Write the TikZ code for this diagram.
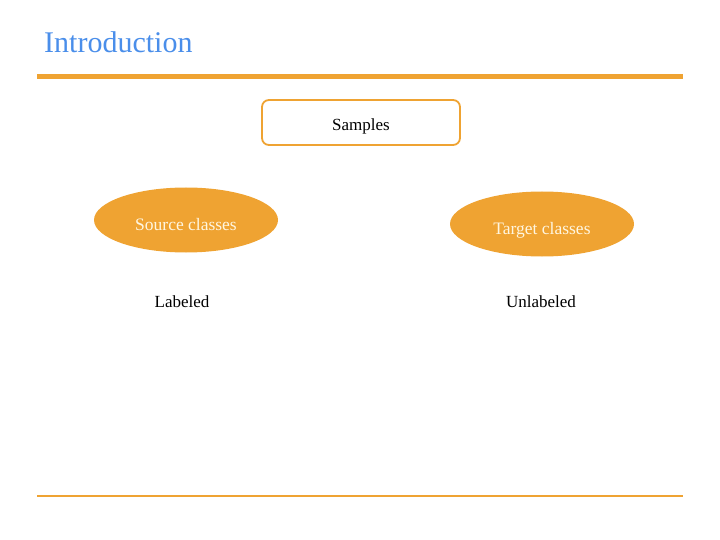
\documentclass[tikz,border=0pt]{standalone}
\usepackage{fontspec}
\setmainfont{Liberation Serif}
\usepackage{xcolor}
\usetikzlibrary{shapes.geometric,positioning}
\definecolor{slideorange}{HTML}{EFA332}
\definecolor{titleblue}{HTML}{4A8EEA}
\definecolor{cream}{HTML}{FFF6E0}

\begin{document}
\begin{tikzpicture}[
  x=1pt, y=-1pt,
  title/.style={anchor=base west, text=titleblue, font=\fontsize{30}{34}\selectfont, inner sep=0},
  samplebox/.style={draw=slideorange, line width=1.8pt, rounded corners=7pt, fill=white, minimum width=198pt, minimum height=45pt, text height=17pt, text depth=0pt, font=\fontsize{17}{20}\selectfont},
  classes/.style={ellipse, fill=slideorange, text=cream, minimum width=184pt, minimum height=65pt, inner sep=0, text height=21pt, text depth=0pt, font=\fontsize{17.5}{20}\selectfont},
  tag/.style={font=\fontsize{17}{20}\selectfont, inner sep=0}
]
\useasboundingbox (0,0) rectangle (720,540);

\node[title] (intro) at (44,53) {Introduction};
\draw[slideorange, line width=5.5pt] (37,76.5) -- (683,76.5);
\draw[slideorange, line width=1.8pt] (37,496) -- (683,496);

\node[samplebox] (samples) at (361,122.5) {Samples};

\node[classes] (source) at (186,220) {Source classes};
\node[classes] (target) at (542,224) {Target classes};

\node[tag] (labeled) at (182,302) {Labeled};
\node[tag] (unlabeled) at (541,302) {Unlabeled};
\end{tikzpicture}
\end{document}
